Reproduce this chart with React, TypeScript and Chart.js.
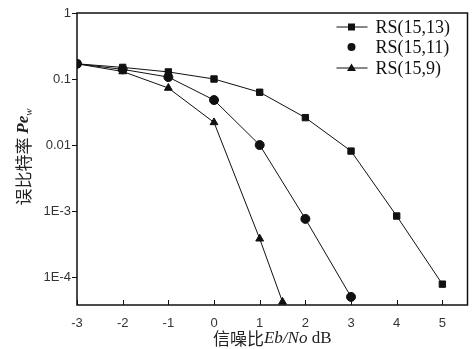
import React, { useEffect, useRef } from "react";
import { Chart, registerables } from "chart.js";

Chart.register(...registerables);

const snr13 = [-3, -2, -1, 0, 1, 2, 3, 4, 5];
const rs13 = [0.17, 0.15, 0.128, 0.1, 0.063, 0.026, 0.0081, 0.00084, 0.000078];
const snr11 = [-3, -2, -1, 0, 1, 2, 3];
const rs11 = [0.17, 0.14, 0.107, 0.048, 0.01, 0.00076, 0.00005];
const snr9 = [-3, -2, -1, 0, 1, 1.5];
const rs9 = [0.17, 0.13, 0.073, 0.022, 0.00038, 0.000042];

const seriesNames = ["RS(15,13)", "RS(15,11)", "RS(15,9)"];
const yTickValues = [1, 0.1, 0.01, 0.001, 0.0001];
const yTickLabels = ["1", "0.1", "0.01", "1E-3", "1E-4"];
const xTickValues = [-3, -2, -1, 0, 1, 2, 3, 4, 5];

const toPts = (xs: number[], ys: number[]) => xs.map((x, i) => ({ x, y: ys[i] }));

const overlay = {
  id: "overlay",
  afterDraw(chart: any) {
    const ctx = chart.ctx as CanvasRenderingContext2D;
    const a = chart.chartArea;
    const xs = chart.scales.x;
    ctx.save();
    // frame
    ctx.strokeStyle = "#111";
    ctx.lineWidth = 1.5;
    ctx.strokeRect(a.left, a.top, a.right - a.left, a.bottom - a.top);
    // inward x ticks
    ctx.lineWidth = 1;
    xTickValues.forEach((v) => {
      const px = Math.round(xs.getPixelForValue(v)) + 0.5;
      ctx.beginPath();
      ctx.moveTo(px, a.bottom);
      ctx.lineTo(px, a.bottom - 5);
      ctx.stroke();
    });
    // legend
    const lx1 = a.right - 131, lx2 = a.right - 100, mx = a.right - 116, tx = a.right - 92;
    const rows = [a.top + 14, a.top + 34, a.top + 55];
    const styles = ["rect", "circle", "triangle"];
    ctx.font = "18px 'Liberation Serif'";
    ctx.textBaseline = "middle";
    ctx.textAlign = "left";
    rows.forEach((ry, i) => {
      ctx.strokeStyle = "#111";
      ctx.fillStyle = "#111";
      if (i !== 1) {
        ctx.beginPath();
        ctx.moveTo(lx1, ry);
        ctx.lineTo(lx2, ry);
        ctx.stroke();
      }
      ctx.beginPath();
      if (styles[i] === "rect") {
        ctx.fillRect(mx - 3.5, ry - 3.5, 7, 7);
      } else if (styles[i] === "circle") {
        ctx.arc(mx, ry, 4, 0, Math.PI * 2);
        ctx.fill();
      } else {
        ctx.moveTo(mx, ry - 4.5);
        ctx.lineTo(mx + 4.5, ry + 3);
        ctx.lineTo(mx - 4.5, ry + 3);
        ctx.closePath();
        ctx.fill();
      }
      ctx.fillText(seriesNames[i], tx, ry + 1);
    });
    // x title
    const parts: [string, string][] = [
      ["信噪比", "17px 'Noto Sans CJK SC'"],
      ["Eb/No", "italic 17px 'Liberation Serif'"],
      [" dB", "17px 'Liberation Serif'"],
    ];
    let total = 0;
    parts.forEach(([t, f]) => { ctx.font = f; total += ctx.measureText(t).width; });
    let cx = (a.left + a.right) / 2 - total / 2;
    const ty = 339;
    ctx.fillStyle = "#222";
    parts.forEach(([t, f]) => {
      ctx.font = f;
      ctx.fillText(t, cx, ty);
      cx += ctx.measureText(t).width;
    });
    // y title
    ctx.translate(24, 157);
    ctx.rotate(-Math.PI / 2);
    const yparts: [string, string, number][] = [
      ["误比特率 ", "17px 'Noto Sans CJK SC'", 0],
      ["Pe", "italic bold 17px 'Liberation Serif'", 0],
      ["w", "italic 11px 'Liberation Serif'", 5],
    ];
    total = 0;
    yparts.forEach(([t, f]) => { ctx.font = f; total += ctx.measureText(t).width; });
    let yx = -total / 2;
    yparts.forEach(([t, f, dy]) => {
      ctx.font = f;
      ctx.fillText(t, yx, dy);
      yx += ctx.measureText(t).width;
    });
    ctx.restore();
  },
};

export default function App() {
  const ref = useRef<HTMLCanvasElement>(null);
  useEffect(() => {
    document.body.style.margin = "0";
    const common = {
      borderColor: "#111",
      backgroundColor: "#111",
      pointBackgroundColor: "#111",
      pointBorderColor: "#111",
      borderWidth: 1,
      tension: 0,
    };
    const chart = new Chart(ref.current as HTMLCanvasElement, {
      type: "line",
      data: {
        datasets: [
          { ...common, label: seriesNames[0], data: toPts(snr13, rs13), pointStyle: "rect", pointRadius: 4.5 },
          { ...common, label: seriesNames[1], data: toPts(snr11, rs11), pointStyle: "circle", pointRadius: 4.5 },
          { ...common, label: seriesNames[2], data: toPts(snr9, rs9), pointStyle: "triangle", pointRadius: 4.5 },
        ],
      },
      options: {
        animation: false,
        responsive: false,
        layout: { padding: { top: 13, right: 3, left: 0, bottom: 0 } },
        plugins: { legend: { display: false }, tooltip: { enabled: false } },
        scales: {
          x: {
            type: "linear",
            min: -3,
            max: 5.55,
            afterBuildTicks: (s: any) => { s.ticks = xTickValues.map((v) => ({ value: v })); },
            afterFit: (s: any) => { s.height = 44; },
            grid: { display: false },
            border: { display: false },
            ticks: {
              color: "#333",
              font: { family: "'Liberation Sans'", size: 13 },
              padding: 3,
              maxRotation: 0,
              callback: (v: any) => String(v),
            },
          },
          y: {
            type: "logarithmic",
            min: 3.77e-5,
            max: 1,
            afterBuildTicks: (s: any) => { s.ticks = yTickValues.map((v) => ({ value: v })); },
            afterFit: (s: any) => { s.width = 77; },
            grid: { display: true, drawOnChartArea: false, drawTicks: true, tickLength: 5, color: "#111" },
            border: { display: false },
            ticks: {
              color: "#333",
              font: { family: "'Liberation Sans'", size: 13 },
              padding: 1,
              callback: (v: any) => {
                const i = yTickValues.findIndex((t) => Math.abs(Math.log10(t) - Math.log10(v)) < 1e-6);
                return i >= 0 ? yTickLabels[i] : "";
              },
            },
          },
        },
      } as any,
      plugins: [overlay],
    });
    return () => chart.destroy();
  }, []);
  return <canvas ref={ref} width={473} height={349} style={{ display: "block" }} />;
}
